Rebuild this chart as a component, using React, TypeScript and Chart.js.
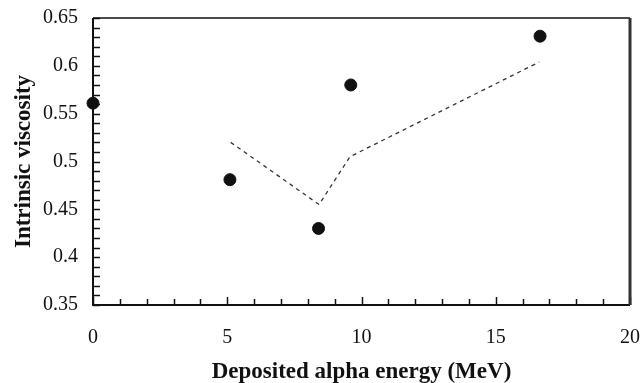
import React, { useEffect, useRef } from "react";
import { Chart, registerables } from "chart.js";

Chart.register(...registerables);

const energy = [0, 5.1, 8.4, 9.6, 16.65];
const viscosity = [0.561, 0.481, 0.43, 0.58, 0.631];
const fitEnergy = [5.13, 8.42, 9.57, 16.62];
const fitViscosity = [0.52, 0.455, 0.505, 0.604];

const xMajor = [0, 5, 10, 15, 20];
const yMajor = [0.35, 0.4, 0.45, 0.5, 0.55, 0.6, 0.65];

const FONT = "'Liberation Serif', 'Times New Roman', serif";

const framePlugin = {
  id: "frame",
  afterDatasetsDraw(chart: any) {
    const { ctx, chartArea: a, scales } = chart;
    ctx.save();
    ctx.strokeStyle = "#111";
    ctx.lineWidth = 1.5;
    const xs = scales.x;
    for (const t of xs.ticks) {
      const px = Math.round(xs.getPixelForValue(t.value)) + 0.5;
      const major = xMajor.some((m) => Math.abs(m - t.value) < 1e-6);
      ctx.beginPath();
      ctx.moveTo(px, a.bottom);
      ctx.lineTo(px, a.bottom - (major ? 8 : 6));
      ctx.stroke();
    }
    const ys = scales.y;
    for (const t of ys.ticks) {
      const py = Math.round(ys.getPixelForValue(t.value)) + 0.5;
      ctx.beginPath();
      ctx.moveTo(a.left, py);
      ctx.lineTo(a.left + 7, py);
      ctx.stroke();
    }
    ctx.strokeStyle = "#111";
    ctx.lineWidth = 2;
    ctx.beginPath();
    ctx.moveTo(a.left, a.top);
    ctx.lineTo(a.left, a.bottom);
    ctx.lineTo(a.right, a.bottom);
    ctx.stroke();
    ctx.lineWidth = 1.5;
    ctx.beginPath();
    ctx.moveTo(a.left, a.top);
    ctx.lineTo(a.right, a.top);
    ctx.stroke();
    ctx.strokeStyle = "#333";
    ctx.lineWidth = 3;
    ctx.beginPath();
    ctx.moveTo(a.right, a.top);
    ctx.lineTo(a.right, a.bottom);
    ctx.stroke();
    ctx.restore();
  },
};

export default function App() {
  const ref = useRef<HTMLCanvasElement>(null);
  useEffect(() => {
    document.body.style.margin = "0";
    const chart = new Chart(ref.current!, {
      type: "scatter",
      data: {
        datasets: [
          {
            label: "fit",
            data: fitEnergy.map((x, i) => ({ x, y: fitViscosity[i] })),
            showLine: true,
            borderColor: "#333",
            borderWidth: 1.3,
            borderDash: [4, 4],
            pointRadius: 0,
            fill: false,
          },
          {
            label: "data",
            data: energy.map((x, i) => ({ x, y: viscosity[i] })),
            backgroundColor: "#111",
            borderColor: "#111",
            pointRadius: 6,
            clip: false as any,
          },
        ],
      },
      options: {
        animation: false,
        responsive: false,
        maintainAspectRatio: false,
        layout: { padding: { left: 0, right: 10, top: 18, bottom: 0 } },
        plugins: { legend: { display: false }, tooltip: { enabled: false } },
        scales: {
          x: {
            type: "linear",
            min: 0,
            max: 20,
            border: { display: false },
            grid: { display: false, drawTicks: false },
            ticks: {
              stepSize: 1,
              autoSkip: false,
              maxRotation: 0,
              padding: 21,
              color: "#111",
              font: { family: FONT, size: 20 },
              callback: (v: any) => (xMajor.some((m) => Math.abs(m - v) < 1e-6) ? String(v) : ""),
            },
            title: {
              display: true,
              text: "Deposited alpha energy (MeV)",
              color: "#111",
              font: { family: FONT, size: 23, weight: "bold" },
              padding: { top: 11, bottom: -3 },
            },
            afterFit: (s: any) => {
              s.height = 78;
              s.paddingLeft = 0;
              s.paddingRight = 0;
            },
          },
          y: {
            type: "linear",
            min: 0.35,
            max: 0.65,
            border: { display: false },
            grid: { display: false, drawTicks: false },
            ticks: {
              stepSize: 0.01,
              autoSkip: false,
              padding: 15,
              color: "#111",
              font: { family: FONT, size: 20 },
              callback: (v: any) => {
                const m = yMajor.find((q) => Math.abs(q - v) < 1e-6);
                return m !== undefined ? String(Number(m.toFixed(2))) : "";
              },
            },
            title: {
              display: true,
              text: "Intrinsic viscosity",
              color: "#111",
              font: { family: FONT, size: 23, weight: "bold" },
              padding: { top: 10, bottom: 4 },
            },
            afterFit: (s: any) => {
              s.width = 93;
              s.paddingTop = 0;
              s.paddingBottom = 0;
            },
          },
        },
      },
      plugins: [framePlugin],
    });
    return () => chart.destroy();
  }, []);
  return (
    <div style={{ position: "absolute", left: 0, top: 0, width: 640, height: 383, background: "#fff" }}>
      <canvas ref={ref} width={640} height={383} />
    </div>
  );
}
